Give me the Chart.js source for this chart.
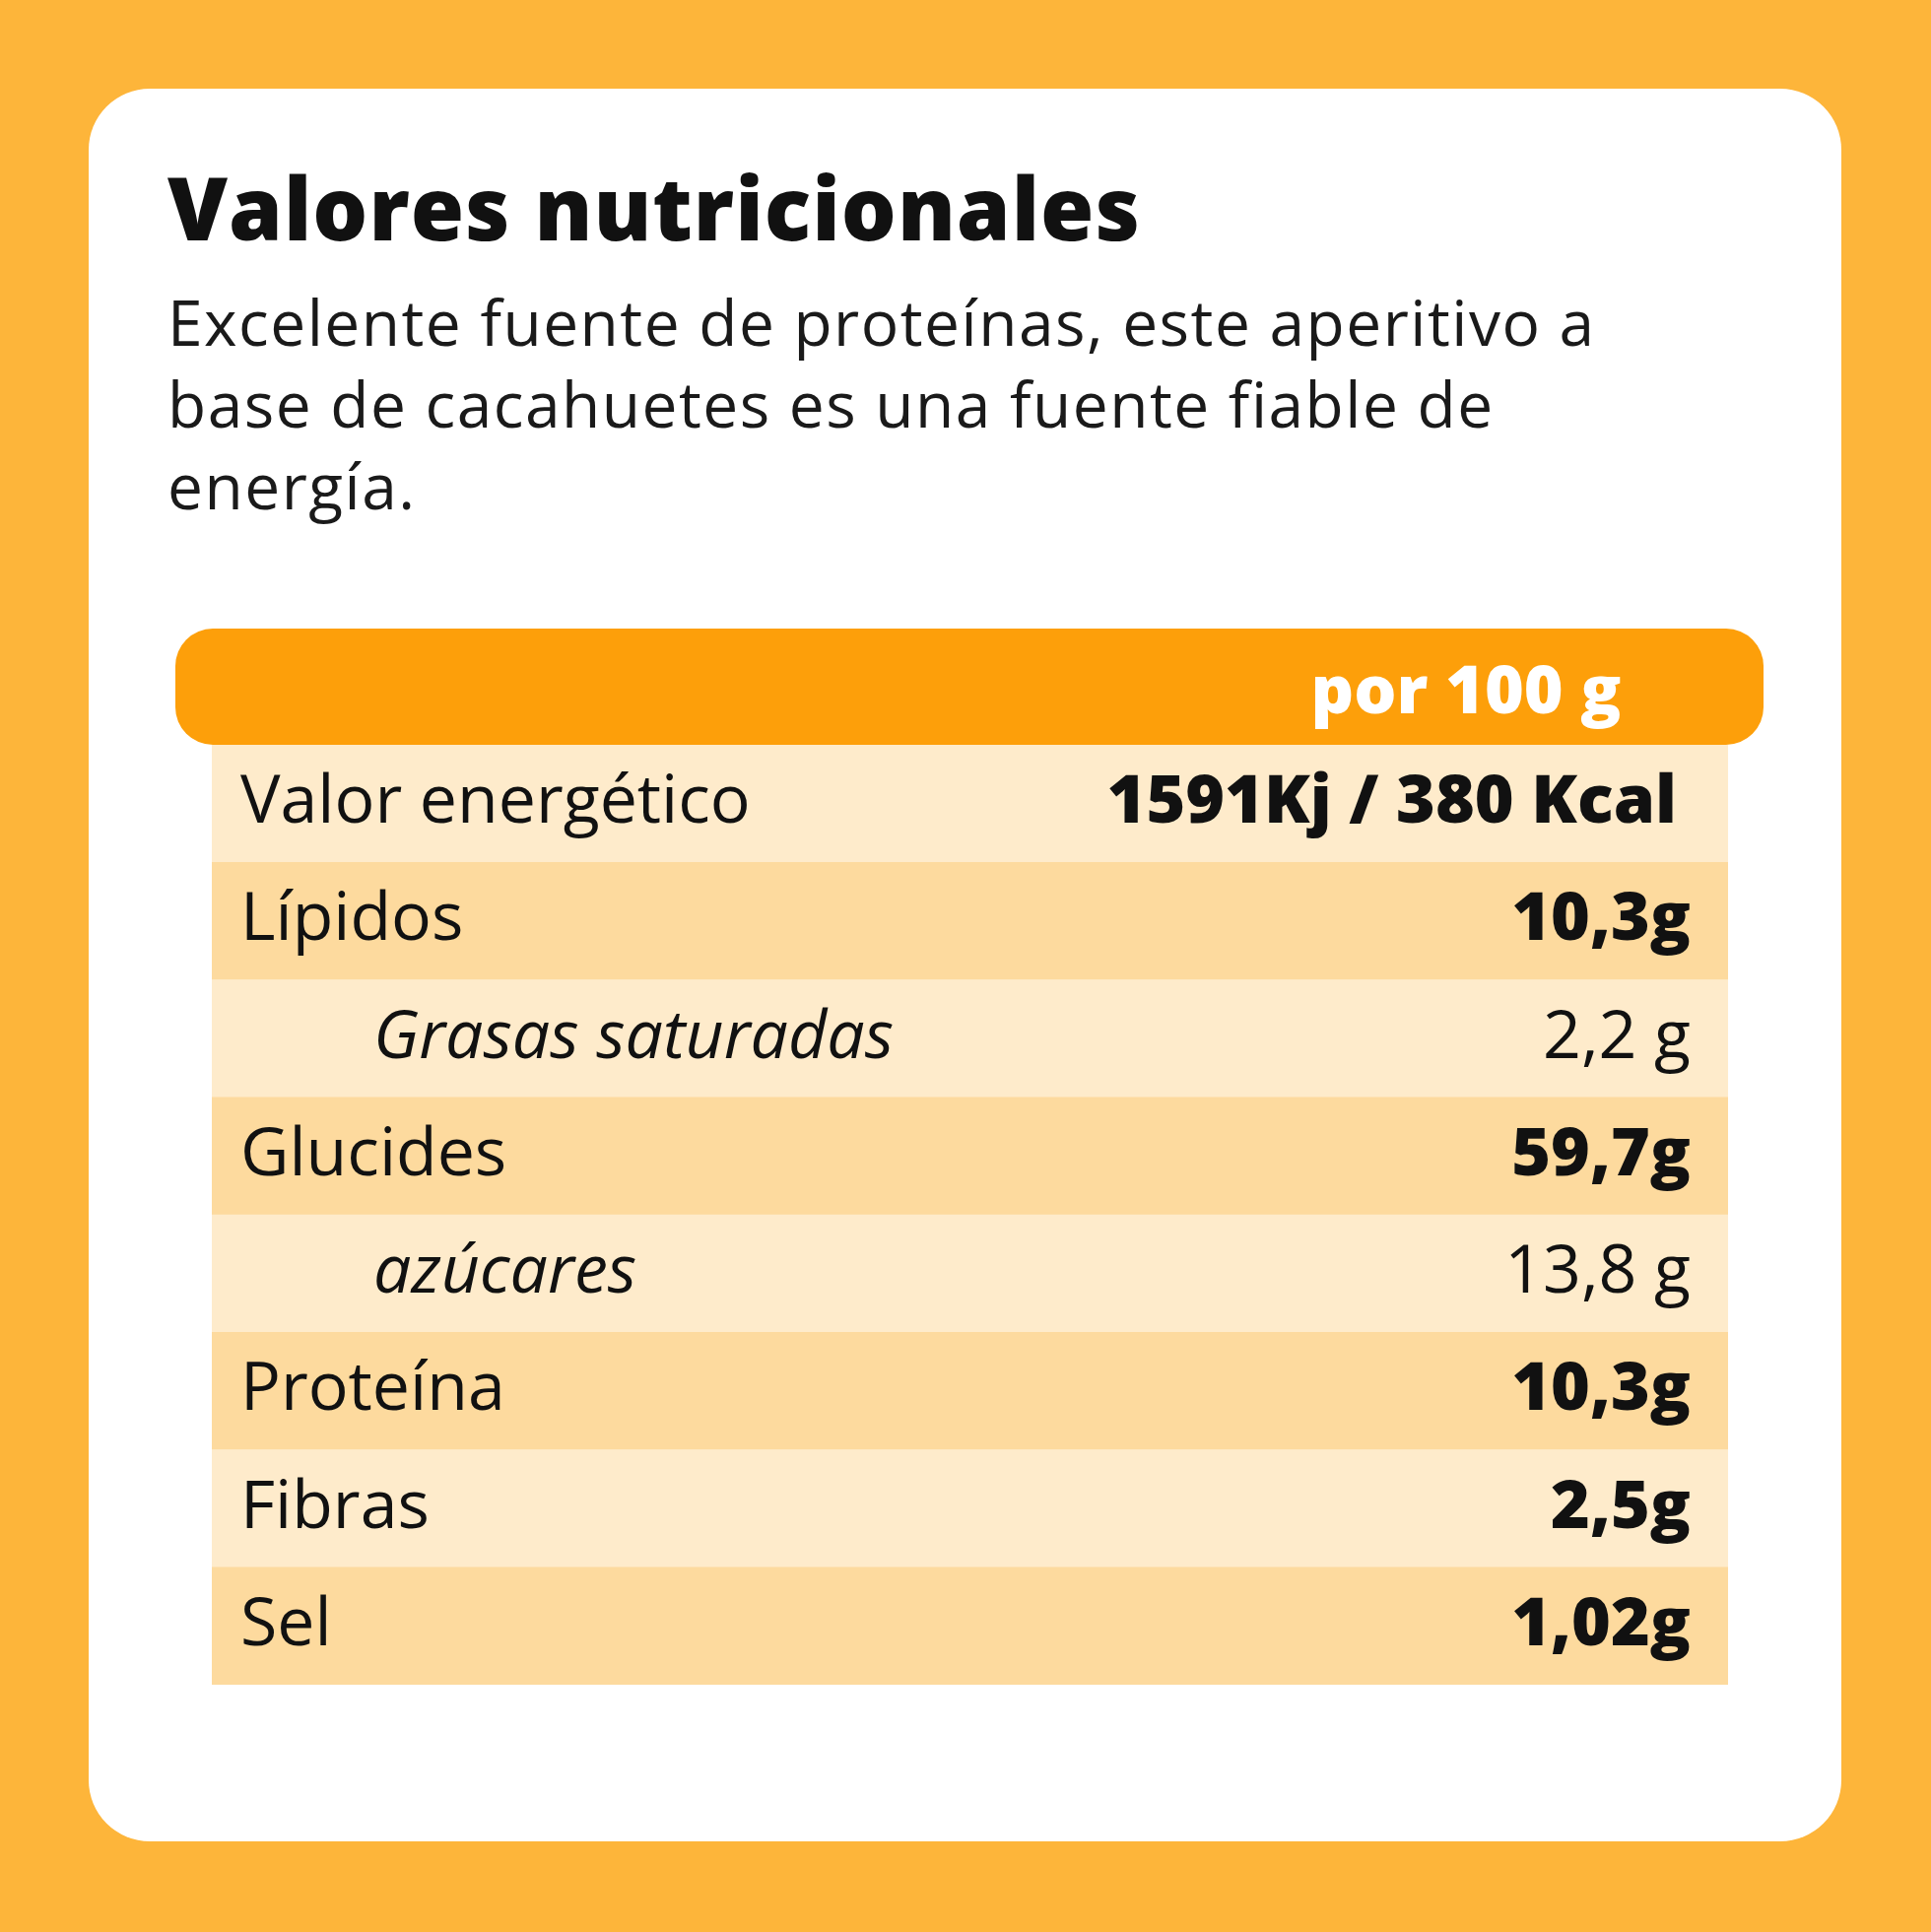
<!DOCTYPE html>
<html><head><meta charset="utf-8">
<script src="https://cdn.jsdelivr.net/npm/chart.js@4"></script>
<style>
html,body{margin:0;padding:0}
body{width:1960px;height:1961px;background:#FDB53A;position:relative;font-family:"Open Sans",Lato,sans-serif;overflow:hidden}
#card{position:absolute;left:90px;top:90px;width:1779px;height:1779px;background:#fff;border-radius:62px}
#title{position:absolute;left:170px;top:150px;font-size:88px;font-weight:800;color:#111;white-space:nowrap;letter-spacing:1px}
#sub{position:absolute;left:170px;top:285px;font-size:64px;line-height:83px;color:#1a1a1a;white-space:nowrap;letter-spacing:1.5px}
#head{position:absolute;left:178px;top:638px;width:1612px;height:118px;background:#FD9F0A;border-radius:38px}
#head span{position:absolute;left:1310px;top:50%;transform:translate(-50%,-50%);font-size:68px;font-weight:800;color:#fff;white-space:nowrap}
#wrap{position:absolute;left:215px;top:756px;width:1539px;height:954px}
</style></head><body>
<div id="card"></div>
<div id="title">Valores nutricionales</div>
<div id="sub">Excelente fuente de proteínas, este aperitivo a<br>base de cacahuetes es una fuente fiable de<br>energía.</div>
<div id="head"><span>por 100 g</span></div>
<div id="wrap"><canvas id="c"></canvas></div>
<script>
const rows = ["Valor energético","Lípidos","Grasas saturadas","Glucides","azúcares","Proteína","Fibras","Sel"];
const values = ["1591Kj / 380 Kcal","10,3g","2,2 g","59,7g","13,8 g","10,3g","2,5g","1,02g"];
const subRow = [false,false,true,false,true,false,false,false];
const fills = rows.map((_,i)=> i%2===0 ? "#FEEBCB" : "#FDDA9E");
const textPlugin = {
  id:'txt',
  afterDatasetsDraw(chart){
    const ctx=chart.ctx, y=chart.scales.y, a=chart.chartArea;
    ctx.save(); ctx.textBaseline='middle'; ctx.fillStyle='#111';
    rows.forEach((r,i)=>{
      const py=y.getPixelForValue(i);
      ctx.textAlign='left';
      ctx.font=(subRow[i]?'italic ':'')+'400 68px "Open Sans", Lato, sans-serif';
      ctx.fillText(r, a.left+(subRow[i]?164:29), py);
      ctx.textAlign='right';
      ctx.font=(subRow[i]?'400':'800')+' 68px "Open Sans", Lato, sans-serif';
      ctx.fillText(values[i], a.left+(i===0?1487:1501), py);
    });
    ctx.restore();
  }
};
new Chart(document.getElementById('c'),{
  type:'bar',
  data:{labels:rows,datasets:[{data:rows.map(()=>1),backgroundColor:fills,borderWidth:0,barPercentage:1,categoryPercentage:1}]},
  options:{indexAxis:'y',responsive:true,maintainAspectRatio:false,animation:false,
    layout:{padding:0},
    plugins:{legend:{display:false},tooltip:{enabled:false}},
    scales:{x:{display:false,min:0,max:1},y:{display:false}}},
  plugins:[textPlugin]
});
</script></body></html>
